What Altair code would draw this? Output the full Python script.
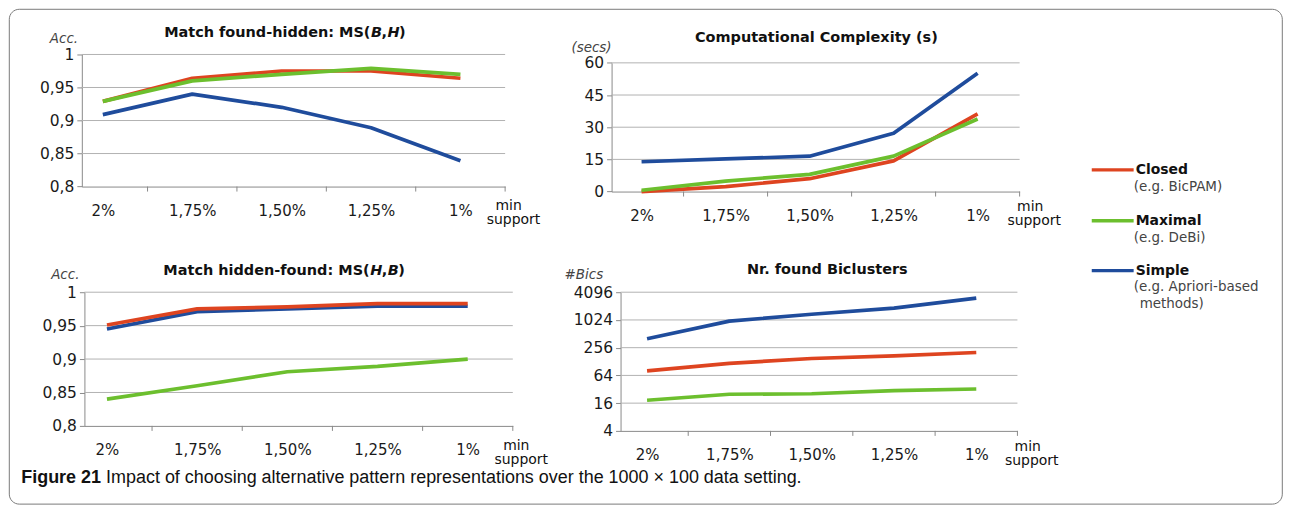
import altair as alt
import pandas as pd

# ---------------- data ----------------
support = ['2%', '1,75%', '1,50%', '1,25%', '1%']
series = ['Closed', 'Maximal', 'Simple']
series_notes = [['(e.g. BicPAM)'], ['(e.g. DeBi)'], ['(e.g. Apriori-based', 'methods)']]
colors = ['#de4420', '#6cbf2e', '#1f4c9c']

ms_bh_closed = [0.929, 0.964, 0.975, 0.975, 0.964]
ms_bh_maximal = [0.929, 0.960, 0.970, 0.979, 0.970]
ms_bh_simple = [0.909, 0.940, 0.920, 0.889, 0.839]

time_closed = [0.0, 2.3, 6.0, 14.3, 36.2]
time_maximal = [0.6, 4.9, 8.0, 16.5, 33.8]
time_simple = [13.9, 15.2, 16.5, 27.2, 55.1]

ms_hb_closed = [0.951, 0.975, 0.978, 0.983, 0.983]
ms_hb_maximal = [0.840, 0.860, 0.881, 0.889, 0.900]
ms_hb_simple = [0.945, 0.971, 0.975, 0.979, 0.979]

bics_closed = [80, 117, 149, 170, 201]
bics_maximal = [18.5, 25, 25.6, 29.8, 32.5]
bics_simple = [400, 965, 1363, 1843, 3050]

acc_ticks = [0.8, 0.85, 0.9, 0.95, 1.0]
time_ticks = [0, 15, 30, 45, 60]
bics_ticks = [4, 16, 64, 256, 1024, 4096]

# titles: list of (text, italic) pieces
titles = [
    [('Match found-hidden: MS(', False), ('B', True), (',', False), ('H', True), (')', False)],
    [('Computational Complexity (s)', False)],
    [('Match hidden-found: MS(', False), ('H', True), (',', False), ('B', True), (')', False)],
    [('Nr. found Biclusters', False)],
]
ytitles = ['Acc.', '(secs)', 'Acc.', '#Bics']
caption_bold = 'Figure 21'
caption_text = 'Impact of choosing alternative pattern representations over the 1000 \u00d7 100 data setting.'

FONT = 'DejaVu Sans'
AXIS_GRAY = '#8a8a8a'
GRID_GRAY = '#b2b2b2'
TITLE_SIZE = 14.5
# approximate advance widths (em) of DejaVu Sans Bold glyphs used after the first title piece
GLYPH_EM = {'B': 0.762, 'H': 0.837, ',': 0.38, ')': 0.457}

x_label_expr = '[' + ','.join("'%s'" % s for s in support) + '][datum.value]'
comma_expr = "replace(format(datum.value, '.2~f'), '.', ',')"


def one(text):
    return pd.DataFrame({'t': [text]})


def text_layer(text, x, y, size=14, weight='normal', style='normal', align='center',
               color='#111', font=FONT, baseline='middle'):
    return alt.Chart(one(text)).mark_text(
        fontSize=size, fontWeight=weight, fontStyle=style, align=align,
        color=color, font=font, baseline=baseline).encode(
        text='t:N', x=alt.value(x), y=alt.value(y))


def title_layers(pieces, x1, y):
    """First piece right-aligned at x1, the following pieces left-aligned after it."""
    out = [text_layer(pieces[0][0], x1, y, size=TITLE_SIZE, weight='bold', align='right')]
    x = x1
    for txt, ital in pieces[1:]:
        out.append(text_layer(txt, x + (0.6 if ital else 0), y, size=TITLE_SIZE, weight='bold',
                              style='italic' if ital else 'normal', align='left'))
        x += GLYPH_EM[txt] * TITLE_SIZE
    return out


# view origins on the page (grid cells) and plot areas (page coordinates)
COL_X = [80.7, 611.7]
ROW_Y = [53.3, 291.0]
P = [
    dict(x=80.7, y=53.3, w=424.3, h=132.4, x0=-0.235, col=0, row=0),
    dict(x=611.7, y=61.7, w=409.0, h=129.0, x0=-0.357, col=1, row=0),
    dict(x=83.3, y=291.0, w=429.4, h=134.0, x0=-0.25, col=0, row=1),
    dict(x=620.7, y=291.0, w=397.8, h=139.0, x0=-0.322, col=1, row=1),
]
# text anchors (page coordinates); title: (anchor x, y, mode) mode 'c' centre, 'r' split
T = [
    dict(title=(370, 31.7, 'r'), yt=(77, 38), mn=(508.5, 205), sp=(513.4, 219.5)),
    dict(title=(817, 36.7, 'c'), yt=(611.7, 46.7), mn=(1031.3, 206), sp=(1035.3, 220.5)),
    dict(title=(369.2, 270, 'r'), yt=(78.3, 273.3), mn=(516.2, 445.5), sp=(521.1, 459.5)),
    dict(title=(828, 268.3, 'c'), yt=(603.3, 273.3), mn=(1028.8, 446), sp=(1032.8, 460.5)),
]


def panel(vals, idx, ydomain, yticks, ylog, ylabel_expr, before=(), after=()):
    g = P[idx]
    t = T[idx]
    ox, oy = COL_X[g['col']], ROW_Y[g['row']]
    xo, yo = g['x'] - ox, g['y'] - oy
    w, h = g['w'], g['h']
    vw, vh = xo + w, yo + h

    def rel(pt):
        return pt[0] - ox, pt[1] - oy

    df = pd.DataFrame({'i': list(range(5)), 'Closed': vals[0],
                       'Maximal': vals[1], 'Simple': vals[2]})
    xscale = alt.Scale(domain=[g['x0'], 4.5], range=[xo, xo + w], nice=False, zero=False)
    if ylog:
        yscale = alt.Scale(type='log', base=2, domain=ydomain, range=[yo + h, yo], nice=False)
    else:
        yscale = alt.Scale(domain=ydomain, range=[yo + h, yo], nice=False, zero=False)
    xaxis = alt.Axis(values=[0, 1, 2, 3, 4], labelExpr=x_label_expr, ticks=False, grid=False,
                     title=None, domainColor=AXIS_GRAY, labelPadding=17, labelFont=FONT,
                     labelFontSize=15, labelColor='#1a1a1a', labelFlush=False,
                     labelOverlap=False)
    yaxis_kw = dict(values=yticks, grid=False, title=None,
                    domainColor=AXIS_GRAY, tickColor=AXIS_GRAY, tickSize=5,
                    labelPadding=3, labelFont=FONT, labelFontSize=15.5,
                    labelColor='#1a1a1a', labelOverlap=False, labelFlush=False)
    if xo > 0:
        yaxis_kw['offset'] = -xo
    if ylabel_expr:
        yaxis_kw['labelExpr'] = ylabel_expr
    else:
        yaxis_kw['format'] = 'd'
    yaxis = alt.Axis(**yaxis_kw)

    layers = list(before)
    # horizontal grid lines (all ticks except the bottom one, which is the x axis)
    gdf = pd.DataFrame({'v': yticks[1:]})
    layers.append(alt.Chart(gdf).mark_rule(color=GRID_GRAY, strokeWidth=1).encode(
        y=alt.Y('v:Q', scale=yscale, axis=yaxis), x=alt.value(xo), x2=alt.value(xo + w)))
    # draw order: Simple (blue), Closed (red), Maximal (green)
    for name in ['Simple', 'Closed', 'Maximal']:
        c = colors[series.index(name)]
        layers.append(alt.Chart(df).mark_line(strokeWidth=3.7, color=c, strokeJoin='round').encode(
            x=alt.X('i:Q', scale=xscale, axis=xaxis),
            y=alt.Y(name + ':Q', scale=yscale, axis=yaxis)))
    # category boundary ticks on the x axis
    bdf = pd.DataFrame({'b': [0.5, 1.5, 2.5, 3.5, 4.5]})
    layers.append(alt.Chart(bdf).mark_rule(color=AXIS_GRAY, strokeWidth=1).encode(
        x=alt.X('b:Q', scale=xscale, axis=xaxis), y=alt.value(yo + h), y2=alt.value(yo + h + 5)))
    tx, ty, mode = t['title']
    if mode == 'c':
        layers.append(text_layer(titles[idx][0][0], tx - ox, ty - oy, size=TITLE_SIZE,
                                 weight='bold'))
    else:
        layers.extend(title_layers(titles[idx], tx - ox, ty - oy))
    layers.append(text_layer(ytitles[idx], *rel(t['yt']), size=13.5, style='italic',
                             align='right', color='#444'))
    layers.append(text_layer('min', *rel(t['mn']), size=14))
    layers.append(text_layer('support', *rel(t['sp']), size=14))
    layers.extend(after)
    return alt.layer(*layers).properties(width=vw, height=vh)


# frame around the figure (decoration, in the coordinates of panel 1's view)
frame = alt.Chart(one('')).mark_rect(fillOpacity=0, stroke='#7a7a7a', strokeWidth=1,
                                     cornerRadius=10).encode(
    x=alt.value(8 - COL_X[0]), x2=alt.value(1284 - COL_X[0]),
    y=alt.value(8 - ROW_Y[0]), y2=alt.value(504 - ROW_Y[0]))

# legend (in the coordinates of panel 2's view)
leg = []
leg_y = [169, 220, 270]
note_y = [186, 237, 286]
lx, ly = COL_X[1], ROW_Y[0]
for k in range(3):
    leg.append(alt.Chart(one(series[k])).mark_rule(color=colors[k], strokeWidth=3.4).encode(
        x=alt.value(1093 - lx), x2=alt.value(1135 - lx), y=alt.value(leg_y[k] - ly)))
    leg.append(text_layer(series[k], 1137 - lx, leg_y[k] - ly, size=14,
                          weight='bold', align='left', color='#111'))
    for j, line in enumerate(series_notes[k]):
        leg.append(text_layer(line, (1135 if j == 0 else 1141) - lx,
                              note_y[k] + 17 * j - ly, size=13.5,
                              align='left', color='#444'))

# caption (in the coordinates of panel 3's view)
cx, cy = COL_X[0], ROW_Y[1]
cap = [
    text_layer(caption_bold, 20 - cx, 477.5 - cy, size=18, weight='bold',
               align='left', color='#111', font='Liberation Sans'),
    text_layer(caption_text, 105 - cx, 477.5 - cy, size=18,
               align='left', color='#111', font='Liberation Sans'),
]

p1 = panel([ms_bh_closed, ms_bh_maximal, ms_bh_simple], 0, [0.8, 1.0], acc_ticks,
           False, comma_expr, before=[frame])
p2 = panel([time_closed, time_maximal, time_simple], 1, [0, 60], time_ticks,
           False, None, after=leg)
p3 = panel([ms_hb_closed, ms_hb_maximal, ms_hb_simple], 2, [0.8, 1.0], acc_ticks,
           False, comma_expr, after=cap)
p4 = panel([bics_closed, bics_maximal, bics_simple], 3, [4, 4096], bics_ticks,
           True, None)

col1_w = max(P[0]['x'] + P[0]['w'], P[2]['x'] + P[2]['w']) - COL_X[0]
row1_h = max(P[0]['y'] + P[0]['h'], P[1]['y'] + P[1]['h']) - ROW_Y[0]

chart = alt.concat(
    p1, p2, p3, p4, columns=2, bounds='flush',
    spacing={'column': COL_X[1] - COL_X[0] - col1_w, 'row': ROW_Y[1] - ROW_Y[0] - row1_h},
    padding=0,
).configure_view(stroke=None)

chart.save('out.html', embed_options={'renderer': 'svg', 'actions': False})
